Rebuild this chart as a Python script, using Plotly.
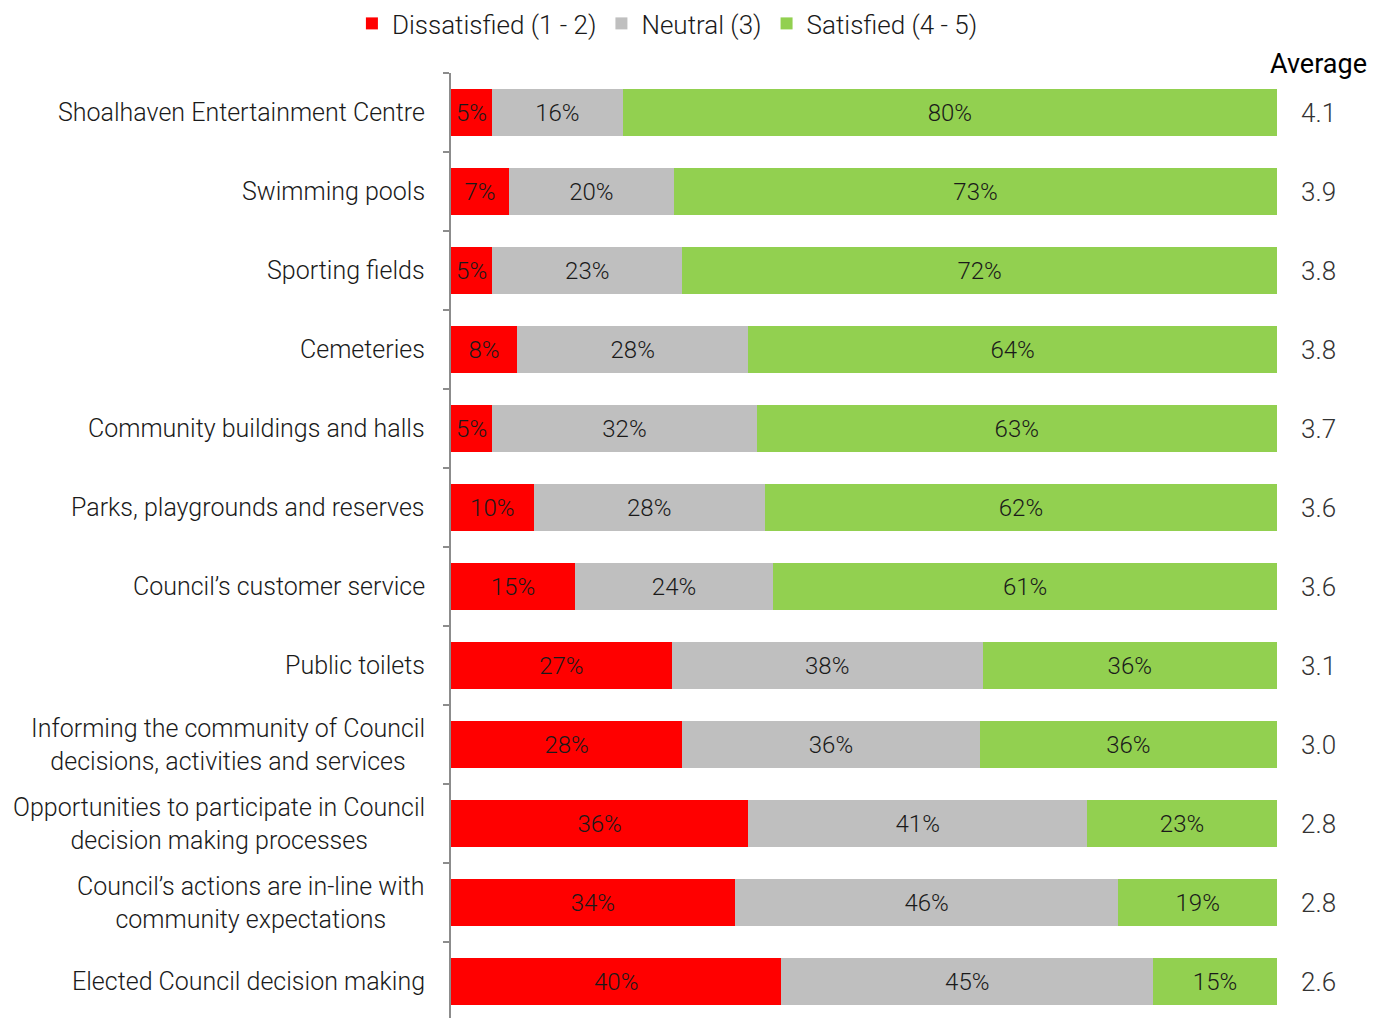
import plotly.graph_objects as go

categories = [
    "Shoalhaven Entertainment Centre",
    "Swimming pools",
    "Sporting fields",
    "Cemeteries",
    "Community buildings and halls",
    "Parks, playgrounds and reserves",
    "Council’s customer service",
    "Public toilets",
    "Informing the community of Council<br>decisions, activities and services",
    "Opportunities to participate in Council<br>decision making processes",
    "Council’s actions are in-line with<br>community expectations",
    "Elected Council decision making",
]
dissatisfied = [5, 7, 5, 8, 5, 10, 15, 27, 28, 36, 34, 40]
neutral = [16, 20, 23, 28, 32, 28, 24, 38, 36, 41, 46, 45]
satisfied = [80, 73, 72, 64, 63, 62, 61, 36, 36, 23, 19, 15]
averages = [4.1, 3.9, 3.8, 3.8, 3.7, 3.6, 3.6, 3.1, 3.0, 2.8, 2.8, 2.6]

series = [
    ("Dissatisfied (1 - 2)", dissatisfied, "#FF0000"),
    ("Neutral (3)", neutral, "#BFBFBF"),
    ("Satisfied (4 - 5)", satisfied, "#92D050"),
]

FONT = "Roboto"
TEXT = "#1a1a1a"

fig = go.Figure()
for name, vals, color in series:
    fig.add_trace(go.Bar(
        y=categories,
        x=vals,
        name=name,
        orientation="h",
        marker=dict(color=color, line=dict(width=0)),
        text=[f"{v}%" for v in vals],
        textposition="inside",
        insidetextanchor="middle",
        textangle=0,
        textfont=dict(family=FONT, size=24, color=TEXT, weight=300),
        hoverinfo="skip",
    ))

annotations = []
# category labels, centred line by line and right-aligned against the axis
for cat in categories:
    annotations.append(dict(
        text=cat, xref="paper", yref="y", x=0, y=cat,
        xanchor="right", align="center", xshift=-24, showarrow=False,
        font=dict(family=FONT, size=25, color=TEXT, weight=300),
    ))

# "Average" column to the right of the bars
avg_x = 1.0 + (1318 - 1277) / 826
annotations.append(dict(
    text="Average", xref="paper", yref="paper", x=avg_x, y=1.0,
    xanchor="center", yanchor="bottom", yshift=-9, showarrow=False,
    font=dict(family=FONT, size=27, color="#000000", weight=400),
))
for cat, avg in zip(categories, averages):
    annotations.append(dict(
        text=f"{avg:.1f}", xref="paper", yref="y", x=avg_x, y=cat,
        xanchor="center", showarrow=False,
        font=dict(family=FONT, size=26, color="#333333", weight=300),
    ))

fig.update_layout(
    width=1387,
    height=1018,
    margin=dict(l=451, r=110, t=72, b=0),
    barmode="stack",
    barnorm="percent",
    bargap=0.405,
    plot_bgcolor="white",
    paper_bgcolor="white",
    font=dict(family=FONT, color=TEXT, weight=300),
    uniformtext=dict(minsize=24, mode="show"),
    showlegend=True,
    legend=dict(
        orientation="h", x=0.262, xanchor="center", y=1.052, yanchor="middle",
        font=dict(family=FONT, size=26, color=TEXT, weight=300),
        traceorder="normal", itemwidth=30,
    ),
    annotations=annotations,
    xaxis=dict(
        range=[0, 100], visible=False, fixedrange=True,
    ),
    yaxis=dict(
        categoryorder="array", categoryarray=categories,
        autorange=False, range=[11.46, -0.5],
        showline=True, linecolor="#8c8c8c", linewidth=2,
        ticks="outside", ticklen=6, tickcolor="#8c8c8c", tickwidth=2,
        tickson="boundaries", showticklabels=False,
        showgrid=False, zeroline=False,
    ),
)

fig.write_html("out.html")
